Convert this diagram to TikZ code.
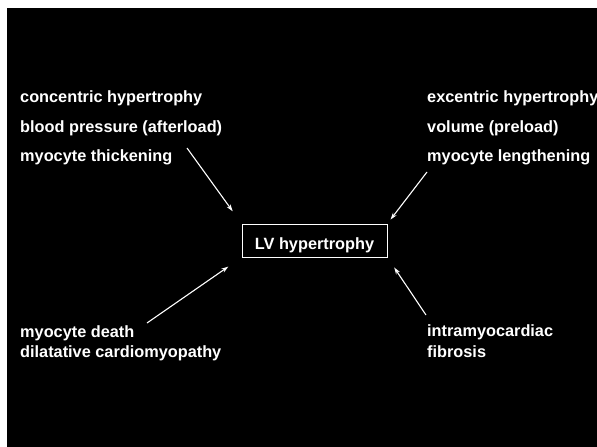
\documentclass[tikz,border=0pt]{standalone}
\usepackage{fontspec}
\setmainfont{Liberation Sans}
\usetikzlibrary{arrows.meta}
\begin{document}
\begin{tikzpicture}[x=1pt, y=-1pt]

\useasboundingbox (0,0) rectangle (597,447);
\fill[white] (0,0) rectangle (597,447);
\fill[black] (7,8) rectangle (597,447);
\clip (0,0) rectangle (597,447);

\tikzset{every node/.style={text=white, font=\fontsize{16.3}{20}\selectfont\bfseries, inner sep=0pt, anchor=west}} 
\node (l1) at (20, 98) {concentric hypertrophy};
\node (l2) at (20, 128) {blood pressure (afterload)};
\node (l3) at (20, 157) {myocyte thickening};
\node (r1) at (427, 98) {excentric hypertrophy};
\node (r2) at (427, 128) {volume (preload)};
\node (r3) at (427, 157) {myocyte lengthening};
\node (ld1) at (20, 333) {myocyte death};
\node (ld2) at (20, 353) {dilatative cardiomyopathy};
\node (rd1) at (427, 332) {intramyocardiac};
\node (rd2) at (427, 352) {fibrosis};

\tikzset{every node/.style={text=white, font=\fontsize{16.3}{20}\selectfont\bfseries, inner sep=0pt}} 
\node[draw=white, line width=1pt, minimum width=145pt, minimum height=33pt, text height=21pt, text depth=3.5pt] (lv) at (314.5, 240.5) {LV hypertrophy};

\coordinate (t1) at (187, 148);
\coordinate (t2) at (427, 172);
\coordinate (t3) at (147, 323);
\coordinate (t4) at (426, 315);

\tikzset{every node/.style={}}; 
\tikzset{mystyle/.style={-{Stealth[length=7pt,width=4.5pt]}, white, line width=1.1pt}};  
\path (t1) edge [mystyle, shorten >=15pt] (lv.north west);
\path (t2) edge [mystyle, shorten >=5pt] (lv.north east);
\path (t3) edge [mystyle, shorten >=16pt] (lv.south west);
\path (t4) edge [mystyle, shorten >=12pt] (lv.south east);
\end{tikzpicture}
\end{document}
